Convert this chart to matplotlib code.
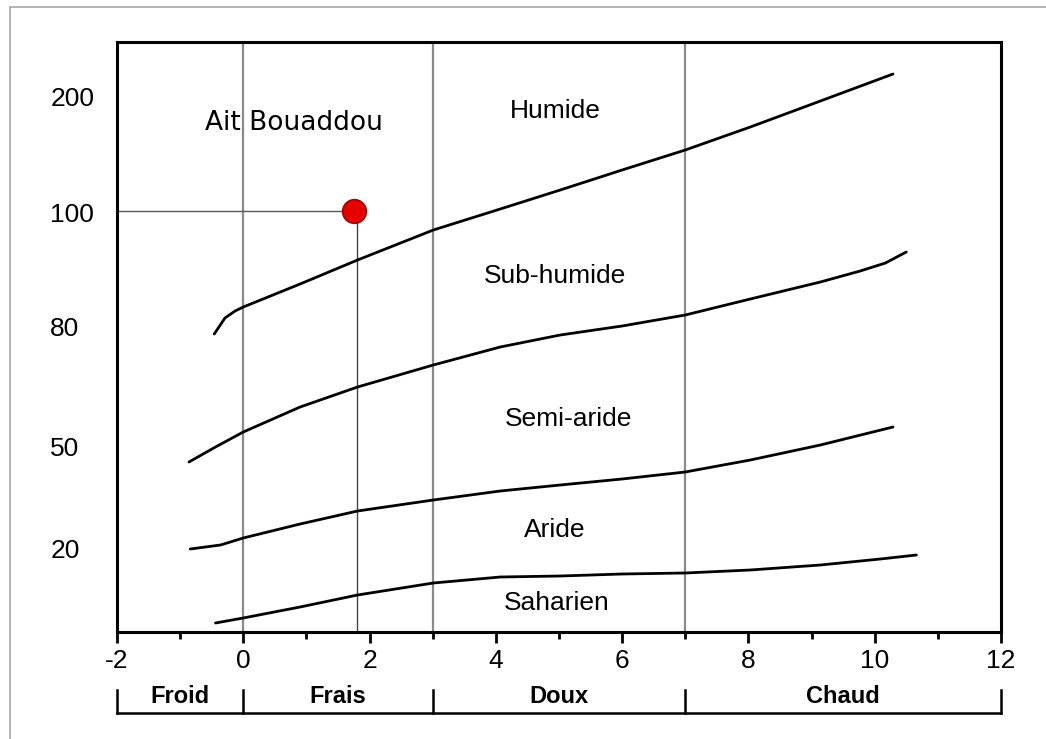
import matplotlib
matplotlib.use('Agg')
import matplotlib.pyplot as plt
from matplotlib.patches import Rectangle

plt.rcParams['font.family'] = ['Liberation Sans', 'DejaVu Sans']
plt.rcParams['axes.unicode_minus'] = False

# limits between bioclimatic zones (x = m, y = position on the Q2 scale)
hum_x = [-0.46, -0.29, -0.13, 0.0, 0.90, 1.81, 3.01, 4.07, 5.02, 6.00, 7.00, 8.03, 9.14, 10.29]
hum_y = [298, 314, 321, 325, 348, 372, 402, 423, 442, 462, 482, 505, 531, 558]

sub_x = [-0.86, -0.44, 0.0, 0.90, 1.81, 3.01, 4.07, 5.02, 6.00, 7.00, 8.03, 9.14, 9.77, 10.17, 10.50]
sub_y = [170, 185, 200, 225, 245, 267, 285, 297, 306, 317, 333, 350, 361, 369, 380]

semi_x = [-0.84, -0.36, 0.0, 0.90, 1.81, 3.01, 4.07, 5.02, 6.00, 7.00, 8.03, 9.14, 10.29]
semi_y = [83, 87, 94, 108, 121, 132, 141, 147, 153, 160, 172, 187, 205]

ari_x = [-0.44, 0.0, 0.90, 1.81, 3.01, 4.07, 5.02, 6.00, 7.00, 8.03, 9.14, 10.09, 10.66]
ari_y = [9, 14, 25, 37, 49, 55, 56, 58, 59, 62, 67, 73, 77]

ytick_pos = [535, 420, 305, 185, 84]
ytick_lab = ['200', '100', '80', '50', '20']

zones = ['Humide', 'Sub-humide', 'Semi-aride', 'Aride', 'Saharien']
zone_x = [4.94, 4.94, 5.15, 4.93, 4.97]
zone_y = [521, 356, 213, 102, 29]

station = 'Ait Bouaddou'
st_m = 1.75
st_q = 421

hiver = ['Froid', 'Frais', 'Doux', 'Chaud']
hiver_lim = [-2, 0, 3, 7, 12]

fig = plt.figure(figsize=(10.46, 7.39), dpi=100)
ax = fig.add_axes([117/1046, 1-632/739, 884/1046, 590/739])

# light grey frame of the picture
fig.add_artist(Rectangle((10/1046, -0.5), 2, 1.5 - 7/739, transform=fig.transFigure,
                         fill=False, edgecolor='#a8a8a8', linewidth=1.2))

for xv in [0, 3, 7]:
    ax.axvline(xv, color='#8a8a8a', linewidth=1.6, zorder=1)

for cx, cy in [(hum_x, hum_y), (sub_x, sub_y), (semi_x, semi_y), (ari_x, ari_y)]:
    ax.plot(cx, cy, color='black', linewidth=2.0, solid_capstyle='round',
            solid_joinstyle='round', zorder=3)

ax.plot([-2, st_m], [st_q, st_q], color='#555555', linewidth=1.0, zorder=2)
ax.plot([1.8, 1.8], [0, st_q], color='#444444', linewidth=1.0, zorder=2)
ax.plot(st_m, st_q, 'o', color='#e60000', markeredgecolor='#a30000',
        markersize=17, markeredgewidth=1.2, zorder=4)

ax.text(0.81, 509, station, fontsize=19, ha='center', va='center',
        family=['DejaVu Sans'])
for name, zx, zy in zip(zones, zone_x, zone_y):
    ax.text(zx, zy, name, fontsize=19, ha='center', va='center')

ax.set_xlim(-2, 12)
ax.set_ylim(0, 590)
ax.set_xticks(range(-2, 13, 2))
ax.set_xticks(range(-1, 12, 2), minor=True)
ax.tick_params(axis='x', which='major', length=8, width=2, labelsize=19, pad=4)
ax.tick_params(axis='x', which='minor', length=5, width=2)
ax.set_yticks(ytick_pos)
ax.set_yticklabels(ytick_lab)
ax.tick_params(axis='y', length=0, labelsize=19, pad=48)
for lab in ax.get_yticklabels():
    lab.set_horizontalalignment('left')
for sp in ax.spines.values():
    sp.set_linewidth(2.2)

# winter type brackets under the axis
trans = ax.get_xaxis_transform()
ax.plot([hiver_lim[0], hiver_lim[-1]], [-0.137, -0.137], color='black', linewidth=1.8,
        transform=trans, clip_on=False)
for xv in hiver_lim:
    ax.plot([xv, xv], [-0.137, -0.098], color='black', linewidth=1.8,
            transform=trans, clip_on=False)
for i, name in enumerate(hiver):
    ax.text((hiver_lim[i] + hiver_lim[i + 1]) / 2, -0.11, name, transform=trans,
            fontsize=17, fontweight='bold', ha='center', va='center')

fig.savefig('out.png', dpi=100)
